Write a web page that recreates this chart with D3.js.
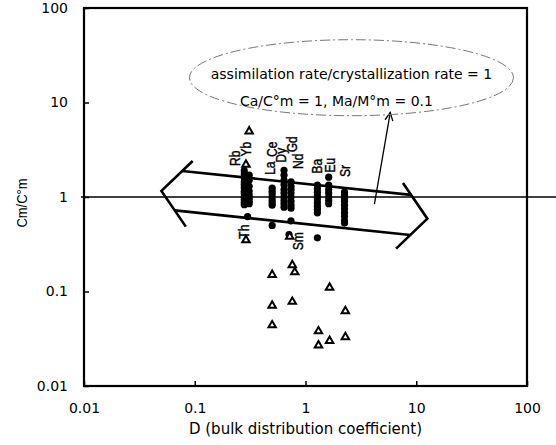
<!DOCTYPE html>
<html>
<head>
<meta charset="utf-8">
<script src="https://cdn.jsdelivr.net/npm/d3@7"></script>
<style>
  body { margin: 0; background: #fff; }
  text { font-family: Arial, "Liberation Sans", sans-serif; fill: #000; }
  .wide { font-family: "DejaVu Sans", sans-serif; }
</style>
</head>
<body>
<svg id="viz" width="556" height="445"></svg>
<script>
// axis ticks
var xTicks = [0.01, 0.1, 1, 10, 100];
var yTicks = [0.01, 0.1, 1, 10, 100];
var xTickLabels = ['0.01', '0.1', '1', '10', '100'];
var yTickLabels = ['0.01', '0.1', '1', '10', '100'];

// filled circles (D, Cm/C°m)
var circleD = [
  0.28, 0.28, 0.28, 0.28, 0.28, 0.28, 0.28, 0.28, 0.28, 0.28, 0.28, 0.28,
  0.31, 0.31, 0.31, 0.31, 0.31, 0.31, 0.31, 0.31,
  0.30,
  0.50, 0.50, 0.50, 0.50, 0.50, 0.50, 0.50, 0.50,
  0.64, 0.64, 0.64, 0.64, 0.64, 0.64, 0.64, 0.64, 0.64, 0.64,
  0.74, 0.74, 0.74, 0.74, 0.74, 0.74, 0.74, 0.74, 0.74,
  0.71,
  1.28, 1.28, 1.28, 1.28, 1.28, 1.28, 1.28, 1.28, 1.28, 1.28,
  1.62, 1.62, 1.62, 1.62, 1.62, 1.62, 1.62,
  2.25, 2.25, 2.25, 2.25, 2.25, 2.25, 2.25, 2.25, 2.25, 2.25
];
var circleC = [
  1.9, 1.75, 1.6, 1.45, 1.35, 1.25, 1.15, 1.08, 1.0, 0.94, 0.88, 0.83,
  1.7, 1.5, 1.3, 1.15, 1.05, 0.97, 0.9, 0.85,
  0.62,
  1.24, 1.15, 1.08, 1.0, 0.93, 0.87, 0.82, 0.50,
  1.92, 1.7, 1.5, 1.35, 1.2, 1.1, 1.0, 0.92, 0.85, 0.78,
  1.45, 1.3, 1.2, 1.1, 1.0, 0.9, 0.82, 0.76, 0.56,
  0.40,
  1.34, 1.22, 1.12, 1.03, 0.95, 0.87, 0.8, 0.74, 0.68, 0.37,
  1.62, 1.34, 1.2, 1.1, 1.0, 0.92, 0.85,
  1.13, 1.05, 0.97, 0.9, 0.82, 0.75, 0.68, 0.62, 0.56, 0.53
];

// open triangles (D, Cm/C°m)
var triD = [0.31, 0.29, 0.29, 0.72, 0.76, 0.80, 0.50, 1.65, 0.50, 0.76, 2.29, 0.50, 1.31, 2.29, 1.65, 1.31];
var triC = [4.95, 2.2, 0.35, 0.38, 0.19, 0.16, 0.15, 0.11, 0.071, 0.078, 0.062, 0.044, 0.038, 0.033, 0.030, 0.027];

// element labels
var elemNames = ['Rb', 'Yb', 'La', 'Ce', 'Dy', 'Gd', 'Nd', 'Ba', 'Eu', 'Sr', 'Th', 'Sm'];
var elemD = [0.229, 0.29, 0.474, 0.494, 0.608, 0.764, 0.865, 1.28, 1.68, 2.29, 0.28, 0.85];
var elemC = [2.57, 3.2, 2.02, 3.2, 2.77, 3.61, 2.39, 2.12, 2.17, 1.88, 0.43, 0.34];

var note1 = 'assimilation rate/crystallization rate = 1';
var note2 = 'Ca/C°m = 1, Ma/M°m = 0.1';

var margin = { top: 8, right: 29, bottom: 59, left: 84 };
var width = 556 - margin.left - margin.right;
var height = 445 - margin.top - margin.bottom;

var svg = d3.select('#viz');
var g = svg.append('g')
  .attr('transform', 'translate(' + margin.left + ',' + margin.top + ')');

var x = d3.scaleLog().domain([0.01, 100]).range([0, width]);
var y = d3.scaleLog().domain([0.01, 100]).range([height, 0]);

// x axis
var xAxis = g.append('g')
  .attr('transform', 'translate(0,' + height + ')')
  .call(d3.axisBottom(x).tickValues(xTicks)
    .tickFormat(function (d, i) { return xTickLabels[i]; })
    .tickSizeInner(-5).tickSizeOuter(0).tickPadding(17));
xAxis.select('.domain').remove();
xAxis.selectAll('line').attr('stroke', '#000').attr('stroke-width', 1.5);
xAxis.selectAll('text').attr('class', 'wide').style('font-size', '14px');

// y axis
var yAxis = g.append('g')
  .call(d3.axisLeft(y).tickValues(yTicks)
    .tickFormat(function (d, i) { return yTickLabels[i]; })
    .tickSizeInner(-5).tickSizeOuter(0).tickPadding(16));
yAxis.select('.domain').remove();
yAxis.selectAll('line').attr('stroke', '#000').attr('stroke-width', 1.5);
yAxis.selectAll('text').attr('class', 'wide').style('font-size', '14px');

// frame
g.append('rect')
  .attr('x', 0).attr('y', 0)
  .attr('width', width).attr('height', height)
  .attr('fill', 'none')
  .attr('stroke', '#000')
  .attr('stroke-width', 2.2);

// line at Cm/C°m = 1, runs past the frame
g.append('line')
  .attr('x1', -3).attr('x2', 556 - margin.left)
  .attr('y1', y(1)).attr('y2', y(1))
  .attr('stroke', '#000').attr('stroke-width', 1.5);

// big hollow double arrow
var tipL = [x(0.05), y(1.16)];
var tipR = [x(12.6), y(0.59)];
var dx = tipR[0] - tipL[0], dy = tipR[1] - tipL[1];
var len = Math.sqrt(dx * dx + dy * dy);
var ux = dx / len, uy = dy / len;
var nx = -uy, ny = ux;
var pt = function (u, n) {
  return [tipL[0] + ux * u + nx * n, tipL[1] + uy * u + ny * n];
};
var headLen = 28, headW = 33, upW = 22, loW = 18;
var line = d3.line();
var arrowParts = [
  [pt(headLen, -headW), pt(0, 0), pt(headLen, headW)],
  [pt(len - headLen, -headW), pt(len, 0), pt(len - headLen, headW)],
  [pt(headLen * upW / headW, -upW), pt(len - headLen * upW / headW, -upW)],
  [pt(headLen * loW / headW, loW), pt(len - headLen * loW / headW, loW)]
];
g.selectAll('.bigarrow')
  .data(arrowParts)
  .enter()
  .append('path')
  .attr('class', 'bigarrow')
  .attr('d', line)
  .attr('fill', 'none')
  .attr('stroke', '#000')
  .attr('stroke-width', 2.6)
  .attr('stroke-linejoin', 'miter');

// circles
g.selectAll('.dot')
  .data(circleD)
  .enter()
  .append('circle')
  .attr('class', 'dot')
  .attr('cx', function (d) { return x(d); })
  .attr('cy', function (d, i) { return y(circleC[i]); })
  .attr('r', 3.6)
  .attr('fill', '#000');

// triangles
var tri = d3.symbol().type(d3.symbolTriangle).size(24);
g.selectAll('.tri')
  .data(triD)
  .enter()
  .append('path')
  .attr('class', 'tri')
  .attr('d', tri)
  .attr('transform', function (d, i) {
    return 'translate(' + x(d) + ',' + y(triC[i]) + ')';
  })
  .attr('fill', '#fff')
  .attr('stroke', '#000')
  .attr('stroke-width', 2);

// element labels (rotated, a bit wider across like the scan)
g.selectAll('.elem')
  .data(elemNames)
  .enter()
  .append('text')
  .attr('class', 'elem')
  .attr('transform', function (d, i) {
    return 'translate(' + x(elemD[i]) + ',' + y(elemC[i]) + ')rotate(-90)scale(1,1.17)';
  })
  .attr('text-anchor', 'middle')
  .attr('dy', '0.35em')
  .style('font-size', '12px')
  .style('stroke', '#000')
  .style('stroke-width', 0.35)
  .text(function (d) { return d; });

// thin arrow from ellipse to arrow
var aFrom = [x(4.19), y(0.84)];
var aTo = [x(5.83), y(7.85)];
g.append('line')
  .attr('x1', aFrom[0]).attr('y1', aFrom[1])
  .attr('x2', aTo[0]).attr('y2', aTo[1])
  .attr('stroke', '#000').attr('stroke-width', 1.3);
var ang = Math.atan2(aTo[1] - aFrom[1], aTo[0] - aFrom[0]);
var hl = 9, ha = 0.45;
g.append('path')
  .attr('d', line([
    [aTo[0] - hl * Math.cos(ang - ha), aTo[1] - hl * Math.sin(ang - ha)],
    aTo,
    [aTo[0] - hl * Math.cos(ang + ha), aTo[1] - hl * Math.sin(ang + ha)]
  ]))
  .attr('fill', 'none')
  .attr('stroke', '#000').attr('stroke-width', 1.3);

// dashed ellipse with the model note
var ec = [x(2.6), y(18.3)];
g.append('ellipse')
  .attr('cx', ec[0]).attr('cy', ec[1])
  .attr('rx', 162).attr('ry', 38)
  .attr('fill', 'none')
  .attr('stroke', '#777')
  .attr('stroke-width', 1)
  .attr('stroke-dasharray', '10,3,2,3');

g.append('text')
  .attr('class', 'wide')
  .attr('x', ec[0])
  .attr('y', ec[1] + 1)
  .attr('text-anchor', 'middle')
  .style('font-size', '14px')
  .text(note1);

g.append('text')
  .attr('class', 'wide')
  .attr('x', ec[0] - 15)
  .attr('y', ec[1] + 28)
  .attr('text-anchor', 'middle')
  .style('font-size', '14px')
  .text(note2);

// axis titles
svg.append('text')
  .attr('class', 'wide')
  .attr('x', margin.left + width / 2)
  .attr('y', 434)
  .attr('text-anchor', 'middle')
  .style('font-size', '15px')
  .text('D (bulk distribution coefficient)');

svg.append('text')
  .attr('transform', 'translate(27,203)rotate(-90)scale(1,1.17)')
  .attr('text-anchor', 'middle')
  .style('font-size', '13px')
  .text('Cm/C°m');
</script>
</body>
</html>
